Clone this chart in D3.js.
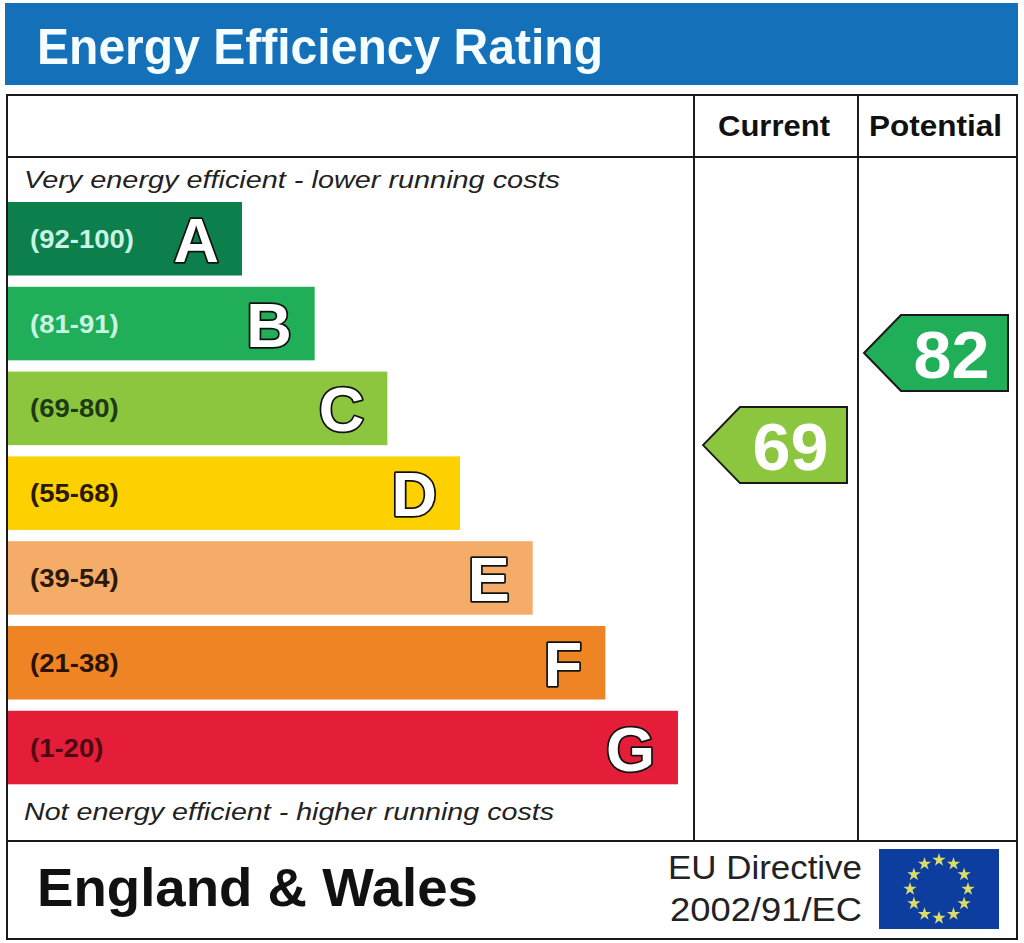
<!DOCTYPE html>
<html><head><meta charset="utf-8">
<script src="https://cdn.jsdelivr.net/npm/d3@7/dist/d3.min.js"></script>
<style>html,body{margin:0;padding:0;background:#fff;}svg{display:block;}</style>
</head><body>
<script>
// ---- data ----
const bandLetters = ["A","B","C","D","E","F","G"];
const bandRanges  = ["(92-100)","(81-91)","(69-80)","(55-68)","(39-54)","(21-38)","(1-20)"];
const bandLow     = [92,81,69,55,39,21,1];
const bandHigh    = [100,91,80,68,54,38,20];
const bandColors  = ["#0c7f4c","#21ae58","#8cc63f","#fdd000","#f5ac68","#ee8424","#e41e39"];
const rangeTextColors = ["#c8f5e3","#c8f5e3","#1d3a12","#2a1a00","#2a1a0a","#2a1200","#4a0a10"];
const currentValue = 69;
const potentialValue = 82;
const columnLabels = ["Current","Potential"];
const titleText = "Energy Efficiency Rating";
const topNote = "Very energy efficient - lower running costs";
const bottomNote = "Not energy efficient - higher running costs";
const regionText = "England & Wales";
const directiveLines = ["EU Directive","2002/91/EC"];

function bandOf(v){ return bandLow.findIndex((lo,i)=> v>=lo && v<=bandHigh[i]); }

const W = 1024, H = 943;
const FONT = "Liberation Sans, Arial, sans-serif";
const svg = d3.select("body").append("svg").attr("width",W).attr("height",H);

// header
svg.append("rect").attr("x",5).attr("y",3).attr("width",1013).attr("height",82).attr("fill","#1470b9");
svg.append("text").attr("x",37).attr("y",64).text(titleText)
  .attr("font-family",FONT).attr("font-weight","bold")
  .attr("font-size",50).attr("fill","#f4fdff")
  .attr("textLength",566).attr("lengthAdjust","spacingAndGlyphs");

// scales
const y = d3.scaleBand().domain(bandLetters).range([202,784.3]).paddingInner(0.133).paddingOuter(0);
const xEnd = d3.scaleLinear().domain([0,6]).range([242,678]);
const x0 = 7;

// bars
const g = svg.append("g");
bandLetters.forEach((L,i)=>{
  const top = y(L), h = y.bandwidth(), end = xEnd(i);
  g.append("rect").attr("x",x0).attr("y",top).attr("width",end-x0).attr("height",h).attr("fill",bandColors[i]);
  const t = g.append("text").attr("x",30).attr("y",top+h/2+9).text(bandRanges[i])
    .attr("font-family",FONT).attr("font-weight","bold")
    .attr("font-size",25).attr("fill",rangeTextColors[i]);
  const len = t.node().getComputedTextLength();
  t.attr("textLength",len*1.1).attr("lengthAdjust","spacingAndGlyphs");
  g.append("text").attr("x",end-23).attr("y",top+h/2+23).text(L)
    .attr("text-anchor","end")
    .attr("font-family",FONT).attr("font-weight","bold")
    .attr("font-size",63).attr("fill","#fff").attr("stroke","#111").attr("stroke-width",3.5)
    .attr("paint-order","stroke").attr("stroke-linejoin","round");
});

// value -> y position within bands (piecewise)
const dom = [], rng = [];
bandLetters.forEach((L,i)=>{ dom.push(bandHigh[i], bandLow[i]); rng.push(y(L), y(L)+y.bandwidth()); });
const yVal = d3.scaleLinear().domain(dom).range(rng);

// table lines
const lines = svg.append("g").attr("stroke","#1a1a1a").attr("stroke-width",2).attr("fill","none");
lines.append("rect").attr("x",7).attr("y",95).attr("width",1010).attr("height",844);
lines.append("line").attr("x1",7).attr("x2",1017).attr("y1",157).attr("y2",157);
lines.append("line").attr("x1",7).attr("x2",1017).attr("y1",841).attr("y2",841);
const colX = [694,858,1017];
lines.append("line").attr("x1",colX[0]).attr("x2",colX[0]).attr("y1",95).attr("y2",841);
lines.append("line").attr("x1",colX[1]).attr("x2",colX[1]).attr("y1",95).attr("y2",841);

// column headers
columnLabels.forEach((t,i)=>{
  svg.append("text").attr("x",(colX[i]+colX[i+1])/2-2).attr("y",136).text(t)
    .attr("text-anchor","middle")
    .attr("font-family",FONT).attr("font-weight","bold")
    .attr("font-size",30).attr("fill","#111")
    .attr("textLength", i===0?112:133).attr("lengthAdjust","spacingAndGlyphs");
});

// notes
svg.append("text").attr("x",24).attr("y",188).text(topNote)
  .attr("font-family",FONT).attr("font-style","italic")
  .attr("font-size",23).attr("fill","#222").attr("textLength",536).attr("lengthAdjust","spacingAndGlyphs");
svg.append("text").attr("x",24).attr("y",820).text(bottomNote)
  .attr("font-family",FONT).attr("font-style","italic")
  .attr("font-size",23).attr("fill","#222").attr("textLength",530).attr("lengthAdjust","spacingAndGlyphs");

// arrows
function arrow(value, colIdx){
  const bi = bandOf(value);
  const cy = yVal(value);
  const left = colX[colIdx]+(colIdx===0?9:6), right = colX[colIdx+1]-(colIdx===0?11:9);
  const hh = 38, depth = 37;
  const pts = [[left,cy],[left+depth,cy-hh],[right,cy-hh],[right,cy+hh],[left+depth,cy+hh]];
  svg.append("path").attr("d", d3.line()(pts)+"Z")
    .attr("fill",bandColors[bi]).attr("stroke","#1a1a1a").attr("stroke-width",2);
  svg.append("text").attr("x",(left+depth+right)/2-3).attr("y",cy+25).text(value)
    .attr("text-anchor","middle")
    .attr("font-family",FONT).attr("font-weight","bold")
    .attr("font-size",67).attr("fill","#fff")
    .attr("textLength",76).attr("lengthAdjust","spacingAndGlyphs");
}
arrow(currentValue,0);
arrow(potentialValue,1);

// footer
svg.append("text").attr("x",37).attr("y",906).text(regionText)
  .attr("font-family",FONT).attr("font-weight","bold")
  .attr("font-size",53).attr("fill","#111").attr("textLength",441).attr("lengthAdjust","spacingAndGlyphs");
directiveLines.forEach((t,i)=>{
  svg.append("text").attr("x",862).attr("y",879+i*42).text(t)
    .attr("text-anchor","end")
    .attr("font-family",FONT)
    .attr("font-size",34).attr("fill","#222").attr("textLength",i===0?194:192).attr("lengthAdjust","spacingAndGlyphs");
});

// EU flag
svg.append("rect").attr("x",879).attr("y",849).attr("width",120).attr("height",80).attr("fill","#0d3d9e");
const starPath = d3.symbol().type(d3.symbolStar).size(55)();
d3.range(12).forEach(k=>{
  const a = k/12*2*Math.PI;
  svg.append("path").attr("d",starPath)
    .attr("transform",`translate(${939+29*Math.sin(a)},${889-29*Math.cos(a)})`)
    .attr("fill","#dcdc6a");
});
</script>
</body></html>
